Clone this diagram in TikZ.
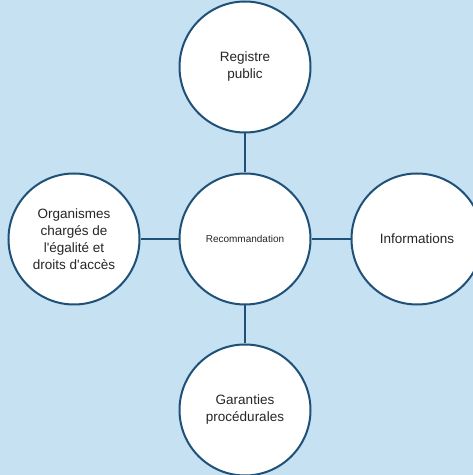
\documentclass[tikz,border=0pt]{standalone}
\usepackage{fontspec}
\setmainfont{Liberation Sans}[Ligatures=TeXOff]
\definecolor{bgblue}{HTML}{C5E1F2}
\definecolor{edgeblue}{HTML}{1F5178}
\definecolor{txt}{HTML}{262626}
\begin{document}
\begin{tikzpicture}[x=1pt,y=1pt,
  bubble/.style={circle,draw=edgeblue,line width=2pt,fill=white,minimum size=131pt,inner sep=0pt,
    text=txt,align=center,font=\fontsize{13.5}{17}\selectfont},
  link/.style={draw=edgeblue,line width=2pt}]
\fill[bgblue] (0,0) rectangle (473,475);
\useasboundingbox (0,0) rectangle (473,475);
\clip (0,0) rectangle (473,475);
\node[bubble,font=\fontsize{10}{12}\selectfont] (c) at (245,236) {Recommandation};
\node[bubble] (t) at (245,408) {Registre\\public};
\node[bubble] (b) at (245,65) {Garanties\\procédurales};
\node[bubble] (l) at (74,236) {Organismes\\chargés de\\l'égalité et\\droits d'accès};
\node[bubble] (r) at (417,236) {Informations};
\draw[link] (c) -- (t);
\draw[link] (c) -- (b);
\draw[link] (c) -- (l);
\draw[link] (c) -- (r);
\end{tikzpicture}
\end{document}
